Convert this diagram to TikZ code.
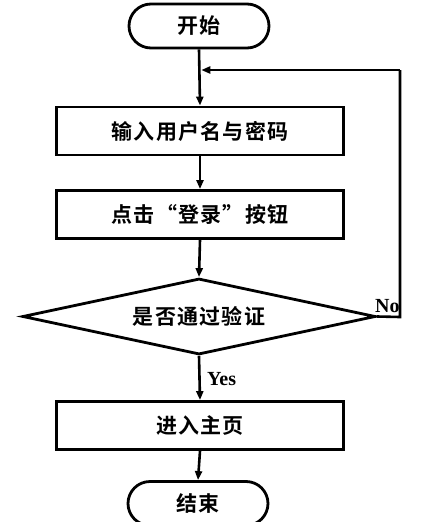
\documentclass[tikz,border=0pt]{standalone}
\usepackage{fontspec}
\setmainfont{Liberation Serif}
\newfontfamily\cjk{Noto Sans CJK SC}[BoldFont={Noto Sans CJK SC Bold},LetterSpace=6]
\usetikzlibrary{shapes.geometric,arrows.meta}
\tikzset{
  flow/.style={line width=2.8pt, draw=black},
  cjkfont/.style={font=\cjk\bfseries\fontsize{21}{21}\selectfont},
  term/.style={flow, rectangle, rounded corners=22pt, minimum width=140pt, minimum height=44pt, inner sep=0pt, cjkfont},
  procbox/.style={flow, rectangle, minimum width=287pt, minimum height=48pt, inner sep=0pt, cjkfont},
  decide/.style={flow, diamond, aspect=4.64, minimum width=353pt, minimum height=76pt, inner sep=0pt, cjkfont},
  conn/.style={line width=2.6pt, -{Triangle[length=9pt,width=7pt]}},
  lab/.style={font=\bfseries\fontsize{20}{20}\selectfont, inner sep=0pt}
}
\begin{document}
\begin{tikzpicture}[x=1pt,y=-1pt]
\useasboundingbox (0,0) rectangle (444,522);
\node[term] (start) at (199,26) {开始};
\node[procbox] (b1) at (200,131) {输入用户名与密码};
\node[procbox] (b2) at (200,214.5) {点击“登录”按钮};
\node[decide] (dec) at (199,316.5) {是否通过验证};
\node[procbox] (b3) at (200,425.5) {进入主页};
\node[term] (stop) at (198,503.5) {结束};
\coordinate (merge) at (200,70);
\coordinate (nr) at (400,317);
\coordinate (nt) at (400,70);
\draw[conn] (start.south) -- (b1.north);
\draw[conn] (b1.south) -- (b2.north);
\draw[conn] (b2.south) -- (dec.north);
\draw[conn] (dec.south) -- (b3.north);
\draw[conn] (b3.south) -- (stop.north);
\draw[line width=2.6pt] (dec.east) -- (nr) -- (nt);
\draw[conn] (nt) -- ([xshift=1.3pt]merge);
\node[lab, anchor=base west] (no) at (375,312) {No};
\node[lab, anchor=base west] (yes) at (207,385) {Yes};
\end{tikzpicture}
\end{document}
